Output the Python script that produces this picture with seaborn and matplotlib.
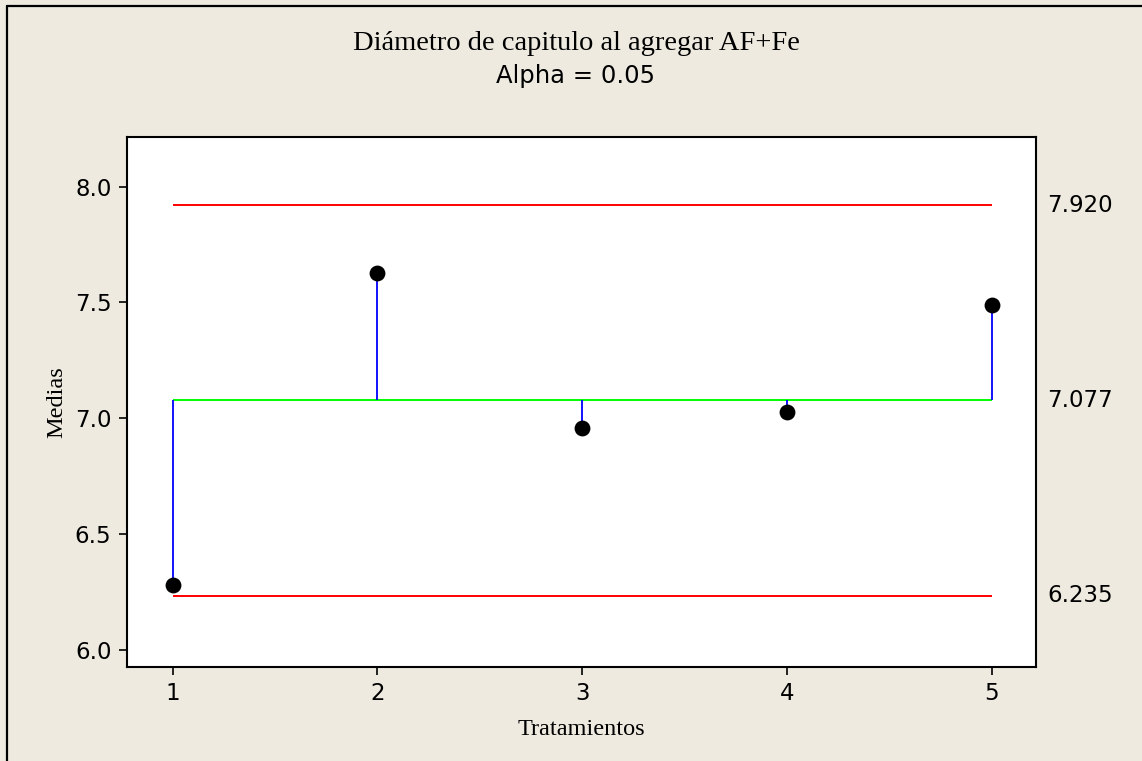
import matplotlib
matplotlib.use("Agg")
import matplotlib.pyplot as plt
from matplotlib.lines import Line2D
import numpy as np
import pandas as pd
import seaborn as sns

# Treatment means and ANOM decision limits
tratamientos = [1, 2, 3, 4, 5]
medias = [6.279, 7.628, 6.960, 7.026, 7.490]
linea_central = 7.077
lim_superior = 7.920
lim_inferior = 6.235
etiquetas_limites = ["7.920", "7.077", "6.235"]
valores_limites = [lim_superior, linea_central, lim_inferior]

titulo = "Diámetro de capitulo al agregar AF+Fe"
subtitulo = "Alpha = 0.05"

df = pd.DataFrame({"Tratamientos": tratamientos, "Medias": medias})

sns.set_style("ticks")
plt.rcParams["font.family"] = ["DejaVu Sans"]

BG = "#EEEAE0"
W, H = 1142, 761
fig = plt.figure(figsize=(W / 100, H / 100), dpi=100, facecolor=BG)

# axes box in pixel coordinates (left, top, right, bottom)
x0, y0, x1, y1 = 126.7, 136.7, 1035.6, 666.7
ax = fig.add_axes([x0 / W, 1 - y1 / H, (x1 - x0) / W, (y1 - y0) / H])
ax.set_facecolor("white")

# decision limits and centre line
ax.hlines([lim_superior, lim_inferior], tratamientos[0], tratamientos[-1],
          colors="#FF0000", linewidth=1.4, zorder=2)
ax.hlines(linea_central, tratamientos[0], tratamientos[-1],
          colors="#00FF00", linewidth=1.4, zorder=2)

# stems from centre line to each mean
ax.vlines(tratamientos, linea_central, medias, colors="#0000FF",
          linewidth=1.3, zorder=3)

sns.scatterplot(data=df, x="Tratamientos", y="Medias", ax=ax, color="black",
                s=130, linewidth=0, zorder=4, legend=False)

ax.set_xlim(0.775, 5.215)
ax.set_ylim(5.928, 8.215)
ax.set_xticks(tratamientos)
ax.set_xticklabels([str(t) for t in tratamientos])
ax.set_yticks([6.0, 6.5, 7.0, 7.5, 8.0])
ax.set_yticklabels(["6.0", "6.5", "7.0", "7.5", "8.0"])
ax.tick_params(axis="both", direction="out", length=6, width=1.2,
               labelsize=16.5, color="black", labelcolor="black")
ax.tick_params(axis="x", pad=5)
ax.tick_params(axis="y", pad=5)
for sp in ax.spines.values():
    sp.set_visible(True)
    sp.set_linewidth(1.5)
    sp.set_color("black")
ax.set_xlabel("")
ax.set_ylabel("")

# limit values on the right of the box
for val, lab in zip(valores_limites, etiquetas_limites):
    ax.text(1.0125, val, lab, transform=ax.get_yaxis_transform(),
            ha="left", va="center", fontsize=16.5, color="black")

serif = ["Liberation Serif", "DejaVu Serif"]
cx = 576 / W
fig.text(cx, 1 - 50 / H, titulo, ha="center", va="baseline",
         fontsize=20.5, family=serif, color="black")
fig.text(cx, 1 - 83 / H, subtitulo, ha="center", va="baseline",
         fontsize=17.5, color="black")
fig.text(((x0 + x1) / 2) / W, 1 - 735 / H, "Tratamientos", ha="center",
         va="baseline", fontsize=17.5, family=serif, color="black")
fig.text(62 / W, 1 - ((y0 + y1) / 2) / H, "Medias",
         ha="center", va="baseline", rotation=90, fontsize=17.5,
         family=serif, color="black", rotation_mode="anchor")

# outer frame (top and left edges)
fig.add_artist(Line2D([6.5 / W, 1.0], [1 - 6 / H, 1 - 6 / H],
                      transform=fig.transFigure, color="black", linewidth=1.6))
fig.add_artist(Line2D([6.5 / W, 6.5 / W], [0.0, 1 - 6 / H],
                      transform=fig.transFigure, color="black", linewidth=1.6))

fig.savefig("out.png", dpi=100, facecolor=BG)
